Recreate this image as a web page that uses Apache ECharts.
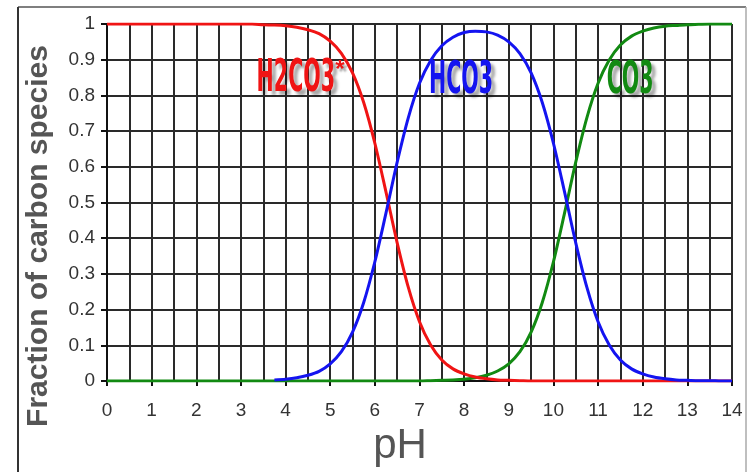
<!DOCTYPE html>
<html><head><meta charset="utf-8">
<script src="https://cdn.jsdelivr.net/npm/echarts@6/dist/echarts.min.js"></script>
<style>html,body{margin:0;padding:0;background:#fff}#c{width:748px;height:472px}</style>
</head><body><div id="c"></div>
<script>
// pH sampling points (x values)
const pH = [0,0.25,0.5,0.75,1,1.25,1.5,1.75,2,2.25,2.5,2.75,3,3.25,3.5,3.75,4,4.25,4.5,4.75,
  5,5.25,5.5,5.75,6,6.25,6.5,6.75,7,7.25,7.5,7.75,8,8.25,8.5,8.75,9,9.25,9.5,9.75,
  10,10.25,10.5,10.75,11,11.25,11.5,11.75,12,12.25,12.5,12.75,13,13.25,13.5,13.75,14];
// H2CO3* fraction
const h2co3 = [1,1,1,1,1,1,1,1,1,1,1,1,1,1,0.998,0.997,0.995,0.991,0.984,0.973,
  0.952,0.918,0.863,0.780,0.666,0.529,0.387,0.262,0.166,0.101,0.059,0.034,0.020,0.011,0.006,0.003,0.002,0.001,0,0,
  0,0,0,0,0,0,0,0,0,0,0,0,0,0,0,0,0];
// HCO3 fraction
const hco3 = [null,null,null,null,null,null,null,null,null,null,null,null,null,null,null,0.003,0.005,0.009,0.016,0.027,
  0.048,0.082,0.137,0.220,0.334,0.471,0.613,0.738,0.834,0.898,0.939,0.963,0.976,0.980,0.978,0.969,0.950,0.917,0.863,0.780,
  0.666,0.529,0.387,0.262,0.166,0.101,0.059,0.034,0.020,0.011,0.006,0.003,0.002,0.001,0.001,0,0];
// CO3 fraction
const co3 = [0,0,0,0,0,0,0,0,0,0,0,0,0,0,0,0,0,0,0,0,
  0,0,0,0,0,0,0,0,0,0.001,0.002,0.003,0.005,0.009,0.016,0.028,0.048,0.082,0.137,0.220,
  0.334,0.471,0.613,0.738,0.834,0.899,0.941,0.966,0.980,0.989,0.994,0.996,0.998,0.999,1,1,1];

const colors = {'H2CO3*':'#f01414','HCO3':'#1414f0','CO3':'#128a12'};
const labelAnchors = [
  {text:'H2CO3', x:4.23, y:0.843, color:colors['H2CO3*'], star:true},
  {text:'HCO3', x:7.93, y:0.84, color:colors['HCO3']},
  {text:'CO3', x:11.72, y:0.84, color:colors['CO3']}
];

const chart = echarts.init(document.getElementById('c'));
const gridColor = '#2a2a2a';
function mk(name, arr){
  return {
    name, type:'line', data: pH.map((x,i)=>[x, arr[i]]),
    showSymbol:false, smooth:0.3, connectNulls:false,
    lineStyle:{color:colors[name], width:3}, itemStyle:{color:colors[name]},
    animation:false
  };
}
chart.setOption({
  animation:false,
  grid:{left:107, top:24, right:16, bottom:91},
  xAxis:{
    type:'value', min:0, max:14, interval:1,
    axisLine:{show:true, lineStyle:{color:'#111', width:2}},
    axisTick:{show:true, length:5, lineStyle:{color:'#111', width:2}},
    axisLabel:{color:'#333', fontSize:19, fontFamily:'Liberation Sans, Arial, sans-serif', margin:20},
    splitLine:{show:true, lineStyle:{color:gridColor, width:2}},
    minorTick:{show:false, splitNumber:2},
    minorSplitLine:{show:true, lineStyle:{color:gridColor, width:2}}
  },
  yAxis:{
    type:'value', min:0, max:1, interval:0.1,
    axisLine:{show:true, lineStyle:{color:'#111', width:2}},
    axisTick:{show:true, length:6, lineStyle:{color:'#111', width:2}},
    axisLabel:{color:'#333', fontSize:19, fontFamily:'Liberation Sans, Arial, sans-serif', margin:12,
      formatter: v => String(Math.round(v*10)/10)},
    splitLine:{show:true, lineStyle:{color:gridColor, width:2}}
  },
  series:[mk('CO3',co3), mk('H2CO3*',h2co3), mk('HCO3',hco3)]
});

const g = [
  {type:'line', shape:{x1:18,y1:7,x2:746,y2:7}, style:{stroke:'#555', lineWidth:1.5}, silent:true},
  {type:'line', shape:{x1:18,y1:7,x2:18,y2:472}, style:{stroke:'#333', lineWidth:2}, silent:true},
  {type:'line', shape:{x1:746,y1:7,x2:746,y2:472}, style:{stroke:'#aaa', lineWidth:1.5}, silent:true},
  {type:'text', x:400, y:446, style:{text:'pH', fill:'#555', font:'42px "Liberation Sans", Arial, sans-serif', align:'center', verticalAlign:'middle'}},
  {type:'text', x:39, y:236, rotation:Math.PI/2, style:{text:'Fraction of carbon species', fill:'#555',
    font:'bold 30px "Liberation Sans", Arial, sans-serif', align:'center', verticalAlign:'middle'}}
];
labelAnchors.forEach(l=>{
  const p = chart.convertToPixel({gridIndex:0}, [l.x, l.y]);
  g.push({type:'text', x:p[0], y:p[1], scaleX:0.52, z:100,
    style:{text:l.text, fill:l.color, font:'bold 44px "Liberation Sans Narrow", "DejaVu Sans Condensed", sans-serif',
      align:'center', verticalAlign:'middle',
      textShadowColor:'rgba(0,0,0,0.35)', textShadowOffsetX:4, textShadowOffsetY:4, textShadowBlur:3}});
  if(l.star){
    g.push({type:'text', x:p[0]+44, y:p[1]-10, z:100,
      style:{text:'*', fill:l.color, font:'bold 24px "Liberation Sans", sans-serif', align:'center', verticalAlign:'middle',
        textShadowColor:'rgba(0,0,0,0.35)', textShadowOffsetX:3, textShadowOffsetY:3, textShadowBlur:2}});
  }
});
chart.setOption({graphic:g});
</script></body></html>
